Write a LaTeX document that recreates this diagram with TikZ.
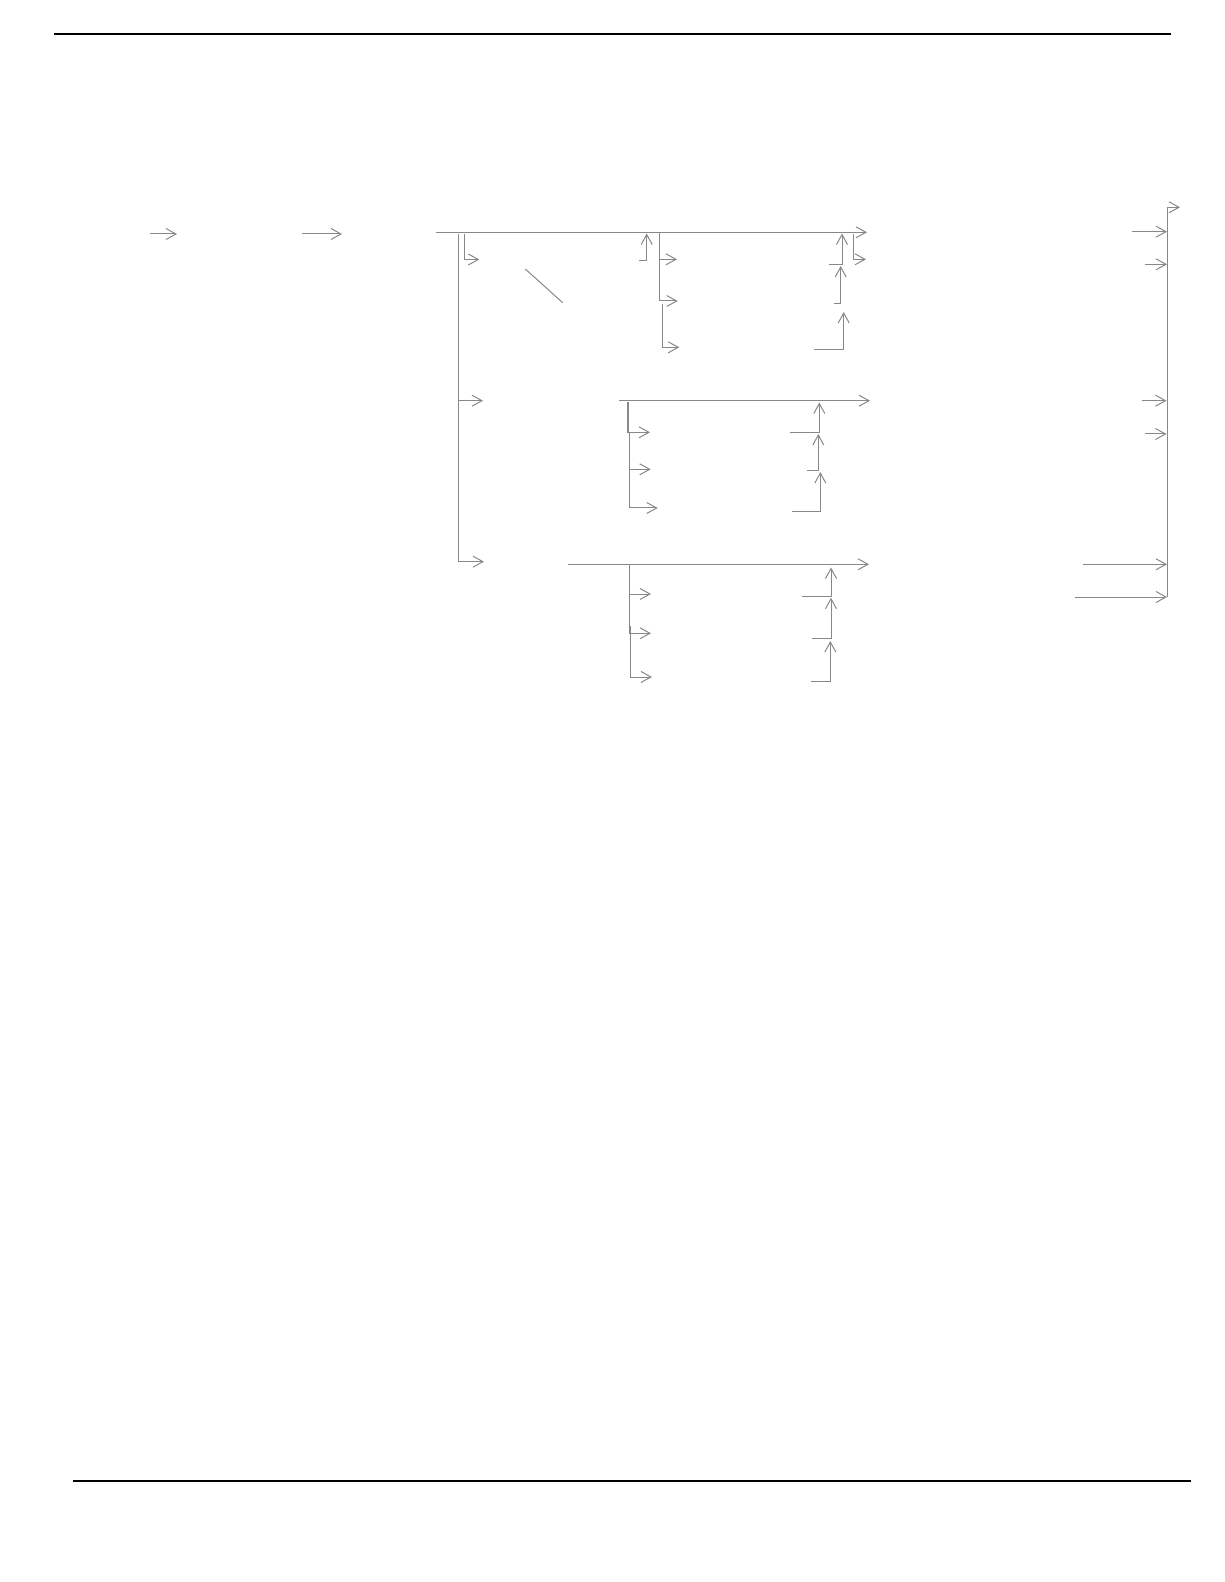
\documentclass[tikz,border=0pt]{standalone}
\usetikzlibrary{arrows.meta}
\definecolor{linegray}{RGB}{136,136,136}
\begin{document}
\begin{tikzpicture}[x=0.5pt,y=-0.5pt,
  conn/.style={draw=linegray, line width=0.5pt},
  arr/.style={conn, -{Straight Barb[length=5pt,width=5.5pt]}},
  rulel/.style={draw=black, line width=0.9pt}]
\useasboundingbox (0,0) rectangle (1224,1582);
% page rules
\coordinate (t1) at (54,34);   \coordinate (t2) at (1171,34);
\coordinate (b1) at (73,1481); \coordinate (b2) at (1191,1481);
\draw[rulel] (t1) -- (t2);
\draw[rulel] (b1) -- (b2);
% left arrows
\coordinate (l1s) at (150,234); \coordinate (l1e) at (177,234);
\coordinate (l2s) at (302,234); \coordinate (l2e) at (342,234);
\draw[arr] (l1s) -- (l1e);
\draw[arr] (l2s) -- (l2e);
% top branch
\coordinate (m1s) at (436,232.3); \coordinate (m1e) at (867,232.3);
\draw[arr] (m1s) -- (m1e);
\coordinate (v0t) at (458.5,234); \coordinate (v0b) at (458.5,561.7);
\coordinate (v0m) at (458.5,400.7);
\coordinate (v0e) at (484,561.7); \coordinate (v0me) at (483,400.7);
\draw[arr] (v0t) -- (v0b) -- (v0e);
\draw[arr] (v0m) -- (v0me);
\coordinate (e1a) at (464.3,234); \coordinate (e1b) at (464.3,259.5); \coordinate (e1c) at (479.3,259.5);
\draw[arr] (e1a) -- (e1b) -- (e1c);
\coordinate (d1) at (525.3,269); \coordinate (d2) at (562.7,302.7);
\draw[conn] (d1) -- (d2);
\coordinate (u1a) at (639,260.3); \coordinate (u1b) at (646.7,260.3); \coordinate (u1c) at (646.7,233.5);
\draw[arr] (u1a) -- (u1b) -- (u1c);
\coordinate (s1a) at (659.3,233); \coordinate (s1b) at (659.3,301); \coordinate (s1c) at (677.7,301);
\coordinate (s1m) at (659.3,259.3); \coordinate (s1me) at (677,259.3);
\draw[arr] (s1a) -- (s1b) -- (s1c);
\draw[arr] (s1m) -- (s1me);
\coordinate (s2a) at (662.3,304.3); \coordinate (s2b) at (662.3,347.3); \coordinate (s2c) at (679.3,347.3);
\draw[arr] (s2a) -- (s2b) -- (s2c);
\coordinate (r1a) at (829,264.3); \coordinate (r1b) at (842,264.3); \coordinate (r1c) at (842,233.5);
\draw[arr] (r1a) -- (r1b) -- (r1c);
\coordinate (r2a) at (834,304); \coordinate (r2b) at (840.7,304); \coordinate (r2c) at (840.7,266);
\draw[arr] (r2a) -- (r2b) -- (r2c);
\coordinate (r3a) at (814,349.3); \coordinate (r3b) at (843.7,349.3); \coordinate (r3c) at (843.7,312);
\draw[arr] (r3a) -- (r3b) -- (r3c);
\coordinate (k1a) at (853.3,234.3); \coordinate (k1b) at (853.3,259.3); \coordinate (k1c) at (866,259.3);
\draw[arr] (k1a) -- (k1b) -- (k1c);
% right bus
\coordinate (busb) at (1167.7,597.3); \coordinate (bust) at (1167.7,207.3); \coordinate (buse) at (1180,207.3);
\draw[arr] (busb) -- (bust) -- (buse);
\coordinate (i1s) at (1132,231.7);   \coordinate (i1e) at (1167,231.7);
\coordinate (i2s) at (1145.3,264.3); \coordinate (i2e) at (1167,264.3);
\coordinate (i3s) at (1142,400.7);   \coordinate (i3e) at (1166.5,400.7);
\coordinate (i4s) at (1145,434);     \coordinate (i4e) at (1166.5,434);
\coordinate (i5s) at (1083,564.3);   \coordinate (i5e) at (1167,564.3);
\coordinate (i6s) at (1075,597);     \coordinate (i6e) at (1167,597);
\foreach \n in {1,...,6} {\draw[arr] (i\n s) -- (i\n e);}
% middle branch
\coordinate (m2s) at (619,400.7); \coordinate (m2e) at (870,400.7);
\draw[arr] (m2s) -- (m2e);
\coordinate (p1a) at (627.7,402); \coordinate (p1b) at (627.7,432.3); \coordinate (p1c) at (650,432.3);
\draw[arr] (p1a) -- (p1b) -- (p1c);
\draw[conn, line width=0.5pt] ([xshift=0.6pt]p1a) -- ([xshift=0.6pt]p1b);
\coordinate (p2a) at (629,432.3); \coordinate (p2b) at (629,469.3); \coordinate (p2c) at (650.7,469.3);
\draw[arr] (p2a) -- (p2b) -- (p2c);
\coordinate (p3a) at (629.3,469.3); \coordinate (p3b) at (629.3,508); \coordinate (p3c) at (657.7,508);
\draw[arr] (p3a) -- (p3b) -- (p3c);
\coordinate (q1a) at (790,432.3); \coordinate (q1b) at (819.3,432.3); \coordinate (q1c) at (819.3,402.5);
\draw[arr] (q1a) -- (q1b) -- (q1c);
\coordinate (q2a) at (807,471); \coordinate (q2b) at (818.3,471); \coordinate (q2c) at (818.3,434);
\draw[arr] (q2a) -- (q2b) -- (q2c);
\coordinate (q3a) at (792,511.3); \coordinate (q3b) at (820.3,511.3); \coordinate (q3c) at (820.3,472);
\draw[arr] (q3a) -- (q3b) -- (q3c);
% bottom branch
\coordinate (m3s) at (568,564.3); \coordinate (m3e) at (869,564.3);
\draw[arr] (m3s) -- (m3e);
\coordinate (g1a) at (629.3,565); \coordinate (g1b) at (629.3,594); \coordinate (g1c) at (651,594);
\draw[arr] (g1a) -- (g1b) -- (g1c);
\coordinate (g2a) at (629.3,594); \coordinate (g2b) at (629.3,633.3); \coordinate (g2c) at (651,633.3);
\draw[arr] (g2a) -- (g2b) -- (g2c);
\coordinate (g3a) at (630.3,626); \coordinate (g3b) at (630.3,677); \coordinate (g3c) at (652,677);
\draw[arr] (g3a) -- (g3b) -- (g3c);
\coordinate (h1a) at (802,596.3); \coordinate (h1b) at (831,596.3); \coordinate (h1c) at (831,567.5);
\draw[arr] (h1a) -- (h1b) -- (h1c);
\coordinate (h2a) at (812,638.3); \coordinate (h2b) at (831,638.3); \coordinate (h2c) at (831,597.7);
\draw[arr] (h2a) -- (h2b) -- (h2c);
\coordinate (h3a) at (811,681.3); \coordinate (h3b) at (830.3,681.3); \coordinate (h3c) at (830.3,641);
\draw[arr] (h3a) -- (h3b) -- (h3c);
\end{tikzpicture}
\end{document}
